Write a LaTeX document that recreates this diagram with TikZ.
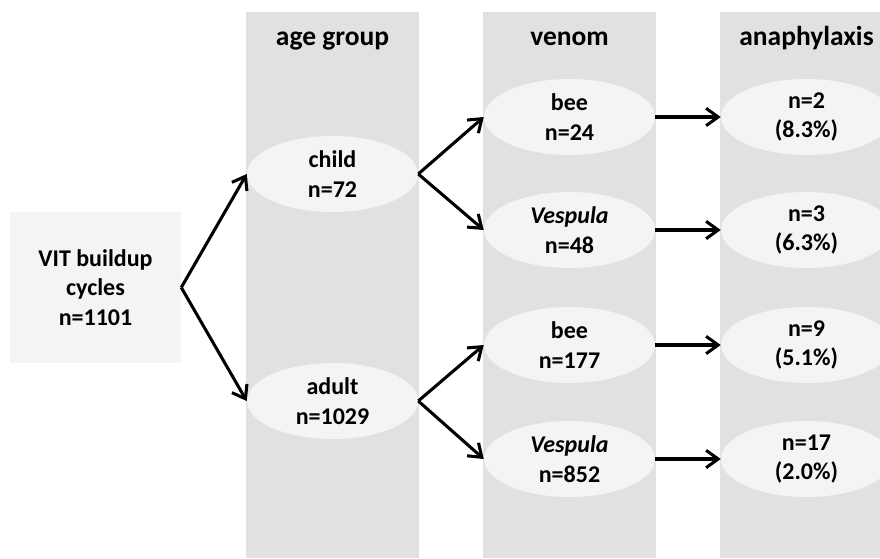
\documentclass[tikz,border=0pt]{standalone}
\usepackage{fontspec}
\setmainfont{Carlito}
\usetikzlibrary{shapes.geometric,positioning,arrows.meta}
\definecolor{colgray}{RGB}{225,225,225}
\definecolor{nodegray}{RGB}{243,244,244}

\begin{document}
\begin{tikzpicture}[x=0.75pt, y=0.75pt, node distance=177.75pt,
  every node/.style={font=\fontsize{18}{22}\selectfont\bfseries, align=center},
  group/.style={ellipse, fill=nodegray, minimum width=128.25pt, minimum height=57pt, inner sep=0pt},
  head/.style={font=\fontsize{20.6}{24}\selectfont\bfseries, anchor=base},
  arr/.style={-{Straight Barb[length=9pt,width=13pt]}, line width=2.3pt}]
\useasboundingbox (0,0) rectangle (880,558);
\clip (0,0) rectangle (880,558);
% columns
\fill[colgray] (246,0) rectangle (419,546);
\fill[colgray] (483,0) rectangle (656,546);
\fill[colgray] (720,0) rectangle (893,546);
\node[head] (hage) at (332.5,512) {age group};
\node[head] (hvenom) at (569.5,512) {venom};
\node[head] (hana) at (806.5,512) {anaphylaxis};

\node[fill=nodegray, minimum width=128.25pt, minimum height=113.25pt] (cycles) at (95.5,270.5) {VIT buildup\\cycles\\n=1101};
\node[group] (child) at (332.5,384) {child\\n=72};
\node[group] (adult) at (332.5,157) {adult\\n=1029};
\node[group] (bee1) at (569.5,441) {bee\\n=24};
\node[group] (vesp1) at (569.5,328) {\textit{Vespula}\\n=48};
\node[group] (bee2) at (569.5,213) {bee\\n=177};
\node[group] (vesp2) at (569.5,99) {\textit{Vespula}\\n=852};
\node[group, right of=bee1] (ana1) {n=2\\(8.3\%)};
\node[group, right of=vesp1] (ana2) {n=3\\(6.3\%)};
\node[group, right of=bee2] (ana3) {n=9\\(5.1\%)};
\node[group, right of=vesp2] (ana4) {n=17\\(2.0\%)};

\draw[arr] (cycles.east) -- (child.west);
\draw[arr] (cycles.east) -- (adult.west);
\draw[arr] (child.east) -- (bee1.west);
\draw[arr] (child.east) -- (vesp1.west);
\draw[arr] (adult.east) -- (bee2.west);
\draw[arr] (adult.east) -- (vesp2.west);
\draw[arr] (bee1) -- (ana1);
\draw[arr] (vesp1) -- (ana2);
\draw[arr] (bee2) -- (ana3);
\draw[arr] (vesp2) -- (ana4);
\end{tikzpicture}
\end{document}
